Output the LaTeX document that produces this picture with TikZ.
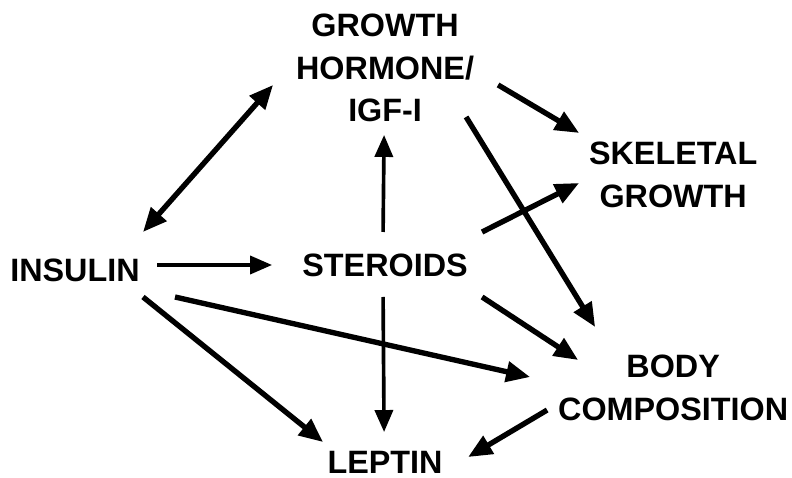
\documentclass[tikz,border=0pt]{standalone}
\usepackage{fontspec}
\setmainfont{Liberation Sans}
\usetikzlibrary{arrows.meta, positioning}

\begin{document}
\begin{tikzpicture}[
    x=0.025cm, y=-0.025cm,
    on grid,
    hormone/.style={align=center, inner sep=0pt, font=\bfseries\fontsize{23}{30.5}\selectfont},
    link/.style={-{Triangle[length=0.6cm, width=0.5cm]}, line width=3.8pt},
    thinlink/.style={-{Triangle[length=0.55cm, width=0.45cm]}, line width=2.6pt},
]
    \useasboundingbox (0,0) rectangle (792,478);

    % Hormones
    \node[hormone] (insulin) at (75,270) {INSULIN};
    \node[hormone, above right=0.125cm and 7.75cm of insulin] (steroids) {STEROIDS};
    \node[hormone, above=4.925cm of steroids] (gh) {GROWTH\\HORMONE/\\IGF-I};
    \node[hormone, below=4.925cm of steroids] (leptin) {LEPTIN};
    % Outcomes
    \node[hormone, above right=2.25cm and 7.2cm of steroids] (skeletal) {SKELETAL\\GROWTH};
    \node[hormone, below right=3.075cm and 7.2cm of steroids] (body) {BODY\\COMPOSITION};

    % Arrows
    \draw[link, {Triangle[length=0.6cm, width=0.5cm]}-{Triangle[length=0.6cm, width=0.5cm]}]
        ([shift={(68,-38)}]insulin.center) -- ([shift={(-112,17)}]gh.center);
    \draw[thinlink] ([shift={(82,-5)}]insulin.center) -- ([shift={(-113,0)}]steroids.center);
    \draw[thinlink] ([shift={(-2,-33)}]steroids.center) -- ([shift={(-1,67)}]gh.center);
    \draw[thinlink] ([shift={(-2,32)}]steroids.center) -- ([shift={(-1,-30)}]leptin.center);
    \draw[link] ([shift={(68,27)}]insulin.center) -- ([shift={(-62,-20)}]leptin.center);
    \draw[link] ([shift={(100,27)}]insulin.center) -- ([shift={(-143,-11)}]body.center);
    \draw[link] ([shift={(113,17)}]gh.center) -- ([shift={(-94,-42)}]skeletal.center);
    \draw[link] ([shift={(81,49)}]gh.center) -- ([shift={(-78,-61)}]body.center);
    \draw[link] ([shift={(97,-33)}]steroids.center) -- ([shift={(-94,8)}]skeletal.center);
    \draw[link] ([shift={(97,32)}]steroids.center) -- ([shift={(-95,-28)}]body.center);
    \draw[link] ([shift={(-126,22)}]body.center) -- ([shift={(83,-5)}]leptin.center);
\end{tikzpicture}
\end{document}
